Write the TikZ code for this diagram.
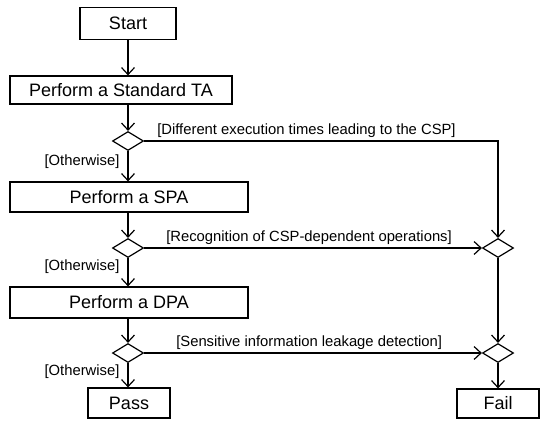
\documentclass[tikz,border=0pt]{standalone}
\usepackage{fontspec}
\setmainfont{Liberation Sans}
\usetikzlibrary{shapes.geometric,arrows.meta}

\tikzset{
  box/.style={draw, line width=1.2pt, inner sep=0pt, font=\fontsize{18}{20}\selectfont},
  choice/.style={draw, diamond, line width=1.2pt, inner sep=0pt, minimum width=31pt, minimum height=19pt},
  flow/.style={line width=1.2pt, -{Straight Barb[length=7pt,width=13pt,line width=1.2pt]}},
  guard/.style={font=\fontsize{14.8}{16}\selectfont, inner sep=1pt}
}

\begin{document}
\begin{tikzpicture}[x=1pt, y=-1pt]
  \useasboundingbox (0,0) rectangle (540,420);
  % left column
  \node[box, minimum width=96pt, minimum height=32pt] (start) at (128,23.5) {Start};
  \node[box, minimum width=222pt, minimum height=28pt] (ta) at (121,90) {Perform a Standard TA};
  \node[choice] (d1) at (128,141) {};
  \node[box, minimum width=238pt, minimum height=30pt] (spa) at (129,197) {Perform a SPA};
  \node[choice] (d2) at (128,248) {};
  \node[box, minimum width=238pt, minimum height=31pt] (dpa) at (129,302.5) {Perform a DPA};
  \node[choice] (d3) at (128,353) {};
  \node[box, minimum width=82pt, minimum height=30pt] (pass) at (129,403) {Pass};
  % right column
  \node[choice] (f2) at (498,248) {};
  \node[choice] (f3) at (498,353) {};
  \node[box, minimum width=82pt, minimum height=29pt] (fail) at (498,403.5) {Fail};

  \draw[flow] (start.south) -- (start.south |- ta.north);
  \draw[flow] (ta.south -| d1) -- (d1.north);
  \draw[flow] (d1.south) -- node[guard, left=7pt, pos=0.35] {[Otherwise]} (d1.south |- spa.north);
  \draw[flow] (spa.south -| d2) -- (d2.north);
  \draw[flow] (d2.south) -- node[guard, left=7pt, pos=0.3] {[Otherwise]} (d2.south |- dpa.north);
  \draw[flow] (dpa.south -| d3) -- (d3.north);
  \draw[flow] (d3.south) -- node[guard, left=7pt, pos=0.35] {[Otherwise]} (d3.south |- pass.north);

  \draw[flow] (d1.east) -| (f2.north);
  \draw[flow] (d2.east) -- (f2.west);
  \draw[flow] (d3.east) -- (f3.west);
  \draw[flow] (f2.south) -- (f3.north);
  \draw[flow] (f3.south) -- (fail.north);

  % guard labels
  \node[guard, anchor=base west] (g1) at ([xshift=12pt,yshift=7pt]d1.east) {[Different execution times leading to the CSP]};
  \node[guard, anchor=base west] (g2) at ([xshift=21pt,yshift=7pt]d2.east) {[Recognition of CSP-dependent operations]};
  \node[guard, anchor=base west] (g3) at ([xshift=31pt,yshift=7pt]d3.east) {[Sensitive information leakage detection]};
\end{tikzpicture}
\end{document}
